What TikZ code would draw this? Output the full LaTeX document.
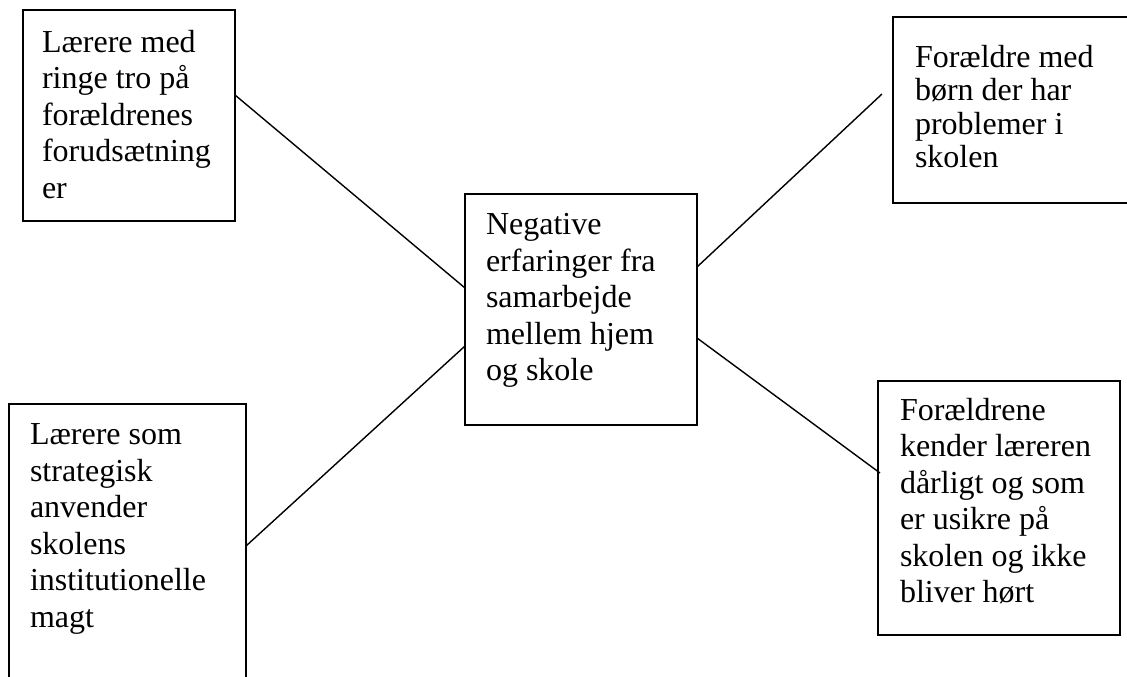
\documentclass[tikz,border=0pt]{standalone}
\usepackage{fontspec}
\setmainfont{Liberation Serif}
\usetikzlibrary{calc}
\begin{document}
\begin{tikzpicture}[x=1pt,y=-1pt,
  box/.style={draw=black, line width=1.6pt, rectangle, inner sep=0pt, outer sep=0pt, anchor=north west},
  txt/.style={anchor=north west, inner sep=0pt, outer sep=0pt, align=left, font=\fontsize{32}{36.5}\selectfont},
  link/.style={draw=black, line width=1.4pt}]
\useasboundingbox (0,0) rectangle (1127,677);
\fill[white] (0,0) rectangle (1127,677);
\clip (0,0) rectangle (1127,677);
% boxes
\node[box, minimum width=212pt, minimum height=211pt] (tl) at (23,10) {};
\node[box, minimum width=232pt, minimum height=231pt] (c) at (465,194) {};
\node[box, minimum width=260pt, minimum height=186pt] (tr) at (893,17) {};
\node[box, minimum width=237pt, minimum height=290pt] (bl) at (9,404) {};
\node[box, minimum width=242pt, minimum height=254pt] (br) at (878,381) {};
% texts
\node[txt] (tltext) at (42,30) {Lærere med\\ringe tro på\\forældrenes\\forudsætning\\er};
\node[txt] (ctext) at (486,213.8) {Negative\\erfaringer fra\\samarbejde\\mellem hjem\\og skole};
\node[txt, font=\fontsize{32}{33.4}\selectfont] (trtext) at (915,45) {Forældre med\\børn der har\\problemer i\\skolen};
\node[txt] (bltext) at (30,423.8) {Lærere som\\strategisk\\anvender\\skolens\\institutionelle\\magt};
\node[txt] (brtext) at (900,398) {Forældrene\\kender læreren\\dårligt og som\\er usikre på\\skolen og ikke\\bliver hørt};
% connectors
\coordinate (trend) at ($(tr.north west)+(-11,77)$);
\draw[link] ($(tl.north east)+(0,85)$) -- ($(c.north west)+(0,94)$);
\draw[link] ($(bl.north east)+(0,142)$) -- ($(c.north west)+(0,152)$);
\draw[link] ($(c.north east)+(0,73)$) -- (trend);
\draw[link] ($(c.north east)+(0,144)$) -- ($(br.north west)+(2,92)$);
\end{tikzpicture}
\end{document}
